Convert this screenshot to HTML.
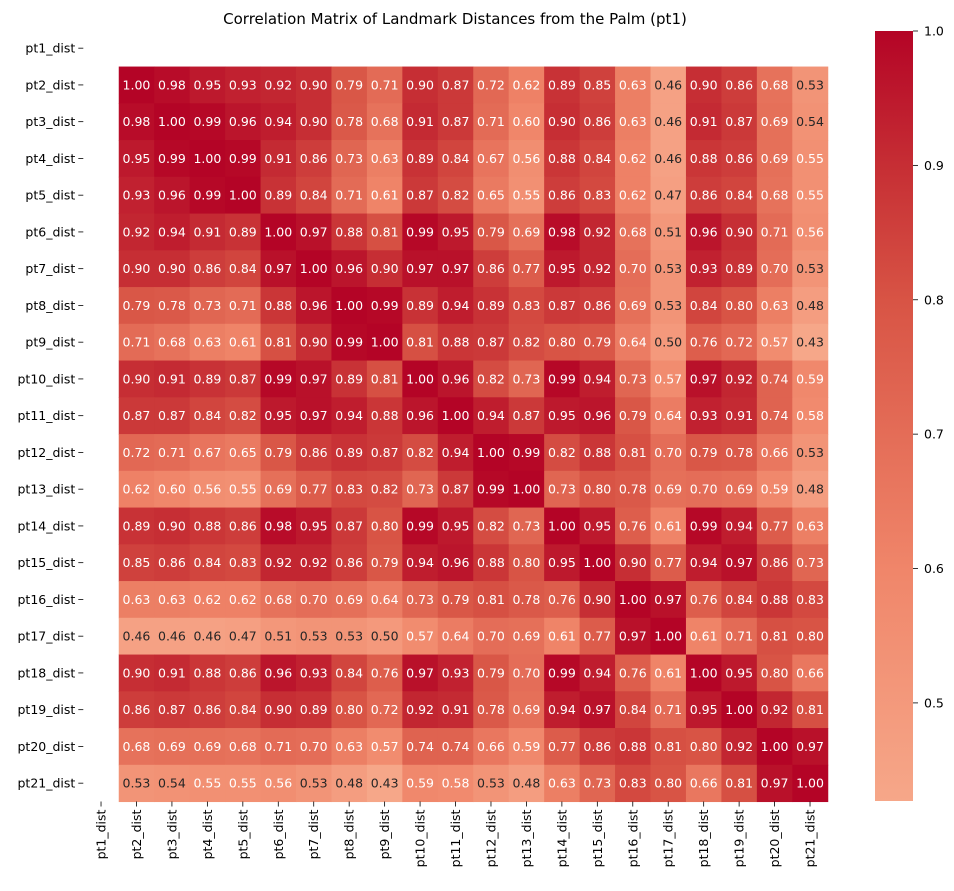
<!DOCTYPE html>
<html><head><meta charset="utf-8"><style>
body{margin:0;background:#fff;font-family:"Liberation Sans","DejaVu Sans",sans-serif;}
svg text{font-family:"DejaVu Sans","Liberation Sans",sans-serif;}
</style></head><body>
<svg id="chart" width="954" height="886" xmlns="http://www.w3.org/2000/svg">
<text x="455" y="24" font-size="15" text-anchor="middle">Correlation Matrix of Landmark Distances from the Palm (pt1)</text>
<g id="cells"></g>
<g id="ylab"></g>
<g id="xlab"></g>
<defs><linearGradient id="cg" x1="0" y1="1" x2="0" y2="0">
<stop offset="0" stop-color="rgb(246,167,137)"/><stop offset="0.298" stop-color="rgb(240,134,106)"/><stop offset="0.649" stop-color="rgb(216,84,69)"/><stop offset="0.825" stop-color="rgb(198,46,52)"/><stop offset="1" stop-color="rgb(180,4,38)"/></linearGradient></defs>
<rect x="875" y="31" width="38" height="770" fill="url(#cg)"/>
<g id="cbt"></g>
</svg>
<script>
const labels=["pt1_dist","pt2_dist","pt3_dist","pt4_dist","pt5_dist","pt6_dist","pt7_dist","pt8_dist","pt9_dist","pt10_dist","pt11_dist","pt12_dist","pt13_dist","pt14_dist","pt15_dist","pt16_dist","pt17_dist","pt18_dist","pt19_dist","pt20_dist","pt21_dist"];
const r2=[1.00,0.98,0.95,0.93,0.92,0.90,0.79,0.71,0.90,0.87,0.72,0.62,0.89,0.85,0.63,0.46,0.90,0.86,0.68,0.53];
const r3=[0.98,1.00,0.99,0.96,0.94,0.90,0.78,0.68,0.91,0.87,0.71,0.60,0.90,0.86,0.63,0.46,0.91,0.87,0.69,0.54];
const r4=[0.95,0.99,1.00,0.99,0.91,0.86,0.73,0.63,0.89,0.84,0.67,0.56,0.88,0.84,0.62,0.46,0.88,0.86,0.69,0.55];
const r5=[0.93,0.96,0.99,1.00,0.89,0.84,0.71,0.61,0.87,0.82,0.65,0.55,0.86,0.83,0.62,0.47,0.86,0.84,0.68,0.55];
const r6=[0.92,0.94,0.91,0.89,1.00,0.97,0.88,0.81,0.99,0.95,0.79,0.69,0.98,0.92,0.68,0.51,0.96,0.90,0.71,0.56];
const r7=[0.90,0.90,0.86,0.84,0.97,1.00,0.96,0.90,0.97,0.97,0.86,0.77,0.95,0.92,0.70,0.53,0.93,0.89,0.70,0.53];
const r8=[0.79,0.78,0.73,0.71,0.88,0.96,1.00,0.99,0.89,0.94,0.89,0.83,0.87,0.86,0.69,0.53,0.84,0.80,0.63,0.48];
const r9=[0.71,0.68,0.63,0.61,0.81,0.90,0.99,1.00,0.81,0.88,0.87,0.82,0.80,0.79,0.64,0.50,0.76,0.72,0.57,0.43];
const r10=[0.90,0.91,0.89,0.87,0.99,0.97,0.89,0.81,1.00,0.96,0.82,0.73,0.99,0.94,0.73,0.57,0.97,0.92,0.74,0.59];
const r11=[0.87,0.87,0.84,0.82,0.95,0.97,0.94,0.88,0.96,1.00,0.94,0.87,0.95,0.96,0.79,0.64,0.93,0.91,0.74,0.58];
const r12=[0.72,0.71,0.67,0.65,0.79,0.86,0.89,0.87,0.82,0.94,1.00,0.99,0.82,0.88,0.81,0.70,0.79,0.78,0.66,0.53];
const r13=[0.62,0.60,0.56,0.55,0.69,0.77,0.83,0.82,0.73,0.87,0.99,1.00,0.73,0.80,0.78,0.69,0.70,0.69,0.59,0.48];
const r14=[0.89,0.90,0.88,0.86,0.98,0.95,0.87,0.80,0.99,0.95,0.82,0.73,1.00,0.95,0.76,0.61,0.99,0.94,0.77,0.63];
const r15=[0.85,0.86,0.84,0.83,0.92,0.92,0.86,0.79,0.94,0.96,0.88,0.80,0.95,1.00,0.90,0.77,0.94,0.97,0.86,0.73];
const r16=[0.63,0.63,0.62,0.62,0.68,0.70,0.69,0.64,0.73,0.79,0.81,0.78,0.76,0.90,1.00,0.97,0.76,0.84,0.88,0.83];
const r17=[0.46,0.46,0.46,0.47,0.51,0.53,0.53,0.50,0.57,0.64,0.70,0.69,0.61,0.77,0.97,1.00,0.61,0.71,0.81,0.80];
const r18=[0.90,0.91,0.88,0.86,0.96,0.93,0.84,0.76,0.97,0.93,0.79,0.70,0.99,0.94,0.76,0.61,1.00,0.95,0.80,0.66];
const r19=[0.86,0.87,0.86,0.84,0.90,0.89,0.80,0.72,0.92,0.91,0.78,0.69,0.94,0.97,0.84,0.71,0.95,1.00,0.92,0.81];
const r20=[0.68,0.69,0.69,0.68,0.71,0.70,0.63,0.57,0.74,0.74,0.66,0.59,0.77,0.86,0.88,0.81,0.80,0.92,1.00,0.97];
const r21=[0.53,0.54,0.55,0.55,0.56,0.53,0.48,0.43,0.59,0.58,0.53,0.48,0.63,0.73,0.83,0.80,0.66,0.81,0.97,1.00];
const rows=[r2,r3,r4,r5,r6,r7,r8,r9,r10,r11,r12,r13,r14,r15,r16,r17,r18,r19,r20,r21];
const cbTicks=[0.5,0.6,0.7,0.8,0.9,1.0];
const vmin=0.427,vmax=1.0;
const X0=83.3,Y0=29.8,CW=35.45,CH=36.75,CBTOP=31,CBH=770;
const ns="http://www.w3.org/2000/svg";
const stops=[[0.43,[246,167,137]],[0.6,[240,134,106]],[0.8,[216,84,69]],[0.9,[198,46,52]],[1.0,[180,4,38]]];
function color(v){
 if(v<=stops[0][0])return stops[0][1];
 for(let i=1;i<stops.length;i++){if(v<=stops[i][0]){const a=stops[i-1],b=stops[i];const t=(v-a[0])/(b[0]-a[0]);return a[1].map((c,k)=>Math.round(c+(b[1][k]-c)*t));}}
 return stops[stops.length-1][1];
}
function xc(j){return X0+CW*(j+0.5);}
function yc(i){return Y0+CH*(i+0.5);}
function cbY(v){return CBTOP+CBH*(vmax-v)/(vmax-vmin);}
function mk(tag,attrs,parent){const e=document.createElementNS(ns,tag);for(const k in attrs)e.setAttribute(k,attrs[k]);parent.appendChild(e);return e;}
const cells=document.getElementById('cells');
rows.forEach((row,ri)=>{
 const i=ri+1;
 row.forEach((v,ci)=>{
  const j=ci+1;const c=color(v);
  const r=mk('rect',{x:X0+CW*j,y:Y0+CH*i,width:CW+0.5,height:CH+0.5,fill:`rgb(${c[0]},${c[1]},${c[2]})`},cells);
  
  
  const t=mk('text',{x:xc(j),y:yc(i)+4.5,'font-size':12.5,'text-anchor':'middle',fill:v>=0.545?'#fff':'#262626'},cells);
  
  
  t.textContent=v.toFixed(2);
 });
});
const yl=document.getElementById('ylab'),xl=document.getElementById('xlab');
labels.forEach((l,i)=>{
 mk('line',{x1:X0-5,x2:X0,y1:yc(i),y2:yc(i),stroke:'#000','stroke-width':0.8},yl);
 const t=mk('text',{x:X0-8,y:yc(i)+4.5,'font-size':12.5,'text-anchor':'end'},yl);
 
 
 t.textContent=l;
 const yb=Y0+CH*21;
 mk('line',{x1:xc(i),x2:xc(i),y1:yb,y2:yb+5,stroke:'#000','stroke-width':0.8},xl);
 const u=mk('text',{x:0,y:0,'font-size':12.5,'text-anchor':'end',transform:`translate(${xc(i)+4.5},${yb+8}) rotate(-90)`},xl);
 
 
 u.textContent=l;
});
const cb=document.getElementById('cbt');
cbTicks.forEach(v=>{
 const y=cbY(v);
 mk('line',{x1:913,x2:918,y1:y,y2:y,stroke:'#000','stroke-width':0.8},cb);
 const t=mk('text',{x:924,y:y+4.5,'font-size':12.5},cb);
 
 
 t.textContent=v.toFixed(1);
});
</script>
</body></html>
